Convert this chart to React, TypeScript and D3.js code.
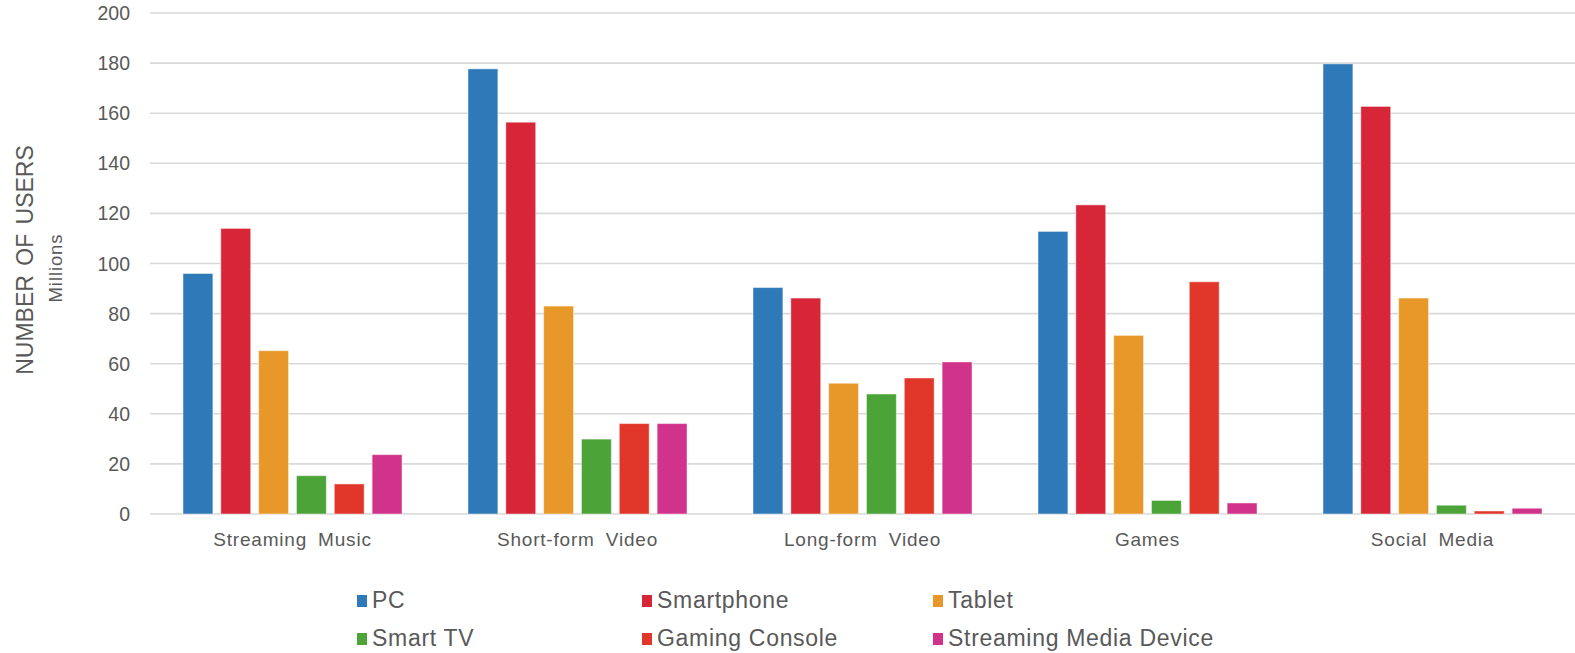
import React from "react";
import * as d3 from "d3";

const categories = ["Streaming Music", "Short-form Video", "Long-form Video", "Games", "Social Media"];
const devices = ["PC", "Smartphone", "Tablet", "Smart TV", "Gaming Console", "Streaming Media Device"];
const colors = ["#2E79B7", "#D72638", "#E89829", "#4CA338", "#E1372A", "#D2338A"];

// Users in millions, one array per device, ordered as `categories`
const pc = [96, 177.7, 90.4, 112.8, 179.7];
const smartphone = [114, 156.4, 86.2, 123.4, 162.7];
const tablet = [65.2, 83, 52.2, 71.3, 86.2];
const smartTv = [15.3, 29.9, 47.9, 5.4, 3.5];
const gamingConsole = [12, 36.1, 54.3, 92.7, 1.2];
const streamingDevice = [23.7, 36.1, 60.7, 4.4, 2.3];

const yTicks = [0, 20, 40, 60, 80, 100, 120, 140, 160, 180, 200];

const seriesValues = [pc, smartphone, tablet, smartTv, gamingConsole, streamingDevice];

const W = 1575;
const H = 653;
const FONT = "'Liberation Sans', Arial, sans-serif";
const GREY = "#595959";

export default function App() {
  const x0 = d3.scaleBand<string>().domain(categories).range([150, W]).paddingInner(0).paddingOuter(0);
  const x1 = d3.scaleBand<string>().domain(devices).range([33, 252]).paddingInner(0.21).paddingOuter(0);
  const y = d3.scaleLinear().domain([0, 200]).range([514, 13]);

  const legendCols = [357, 642, 933];
  const legendRows = [608, 646];

  return (
    <svg width={W} height={H} style={{ position: "absolute", left: 0, top: 0, background: "#fff" }}>
      {/* gridlines */}
      {yTicks.map((t) => (
        <line key={t} x1={150} x2={W} y1={y(t)} y2={y(t)} stroke="#D9D9D9" strokeWidth={1.6} />
      ))}
      {/* y tick labels */}
      {yTicks.map((t) => (
        <text key={"l" + t} x={130} y={y(t)} dy="0.36em" textAnchor="end" fontFamily={FONT} fontSize={19.5} fill={GREY}>
          {t}
        </text>
      ))}
      {/* axis titles */}
      <text
        transform="translate(33,260) rotate(-90)"
        textAnchor="middle"
        fontFamily={FONT}
        fontSize={23}
        letterSpacing={0}
        wordSpacing={3}
        fill={GREY}
      >
        NUMBER OF USERS
      </text>
      <text
        transform="translate(62,268) rotate(-90)"
        textAnchor="middle"
        fontFamily={FONT}
        fontSize={18.5}
        letterSpacing={0.9}
        fill={GREY}
      >
        Millions
      </text>
      {/* bars */}
      {categories.map((c, ci) => (
        <g key={c} transform={`translate(${x0(c)},0)`}>
          {devices.map((d, si) => {
            const v = seriesValues[si][ci];
            return (
              <rect
                key={d}
                x={x1(d)}
                y={y(v)}
                width={x1.bandwidth()}
                height={y(0) - y(v)}
                fill={colors[si]}
                stroke="#ffffff"
                strokeOpacity={0.45}
                strokeWidth={1}
              />
            );
          })}
        </g>
      ))}
      {/* category labels */}
      {categories.map((c) => (
        <text
          key={"c" + c}
          x={(x0(c) as number) + x0.bandwidth() / 2}
          y={546}
          textAnchor="middle"
          fontFamily={FONT}
          fontSize={19}
          letterSpacing={0.8}
          wordSpacing={5}
          fill={GREY}
        >
          {c}
        </text>
      ))}
      {/* legend */}
      {devices.map((d, i) => {
        const cx = legendCols[i % 3];
        const cy = legendRows[Math.floor(i / 3)];
        return (
          <g key={"lg" + d}>
            <rect x={cx} y={cy - 13} width={10} height={12} fill={colors[i]} />
            <text x={cx + 15} y={cy} fontFamily={FONT} fontSize={23} letterSpacing={0.7} fill={GREY}>
              {d}
            </text>
          </g>
        );
      })}
    </svg>
  );
}
